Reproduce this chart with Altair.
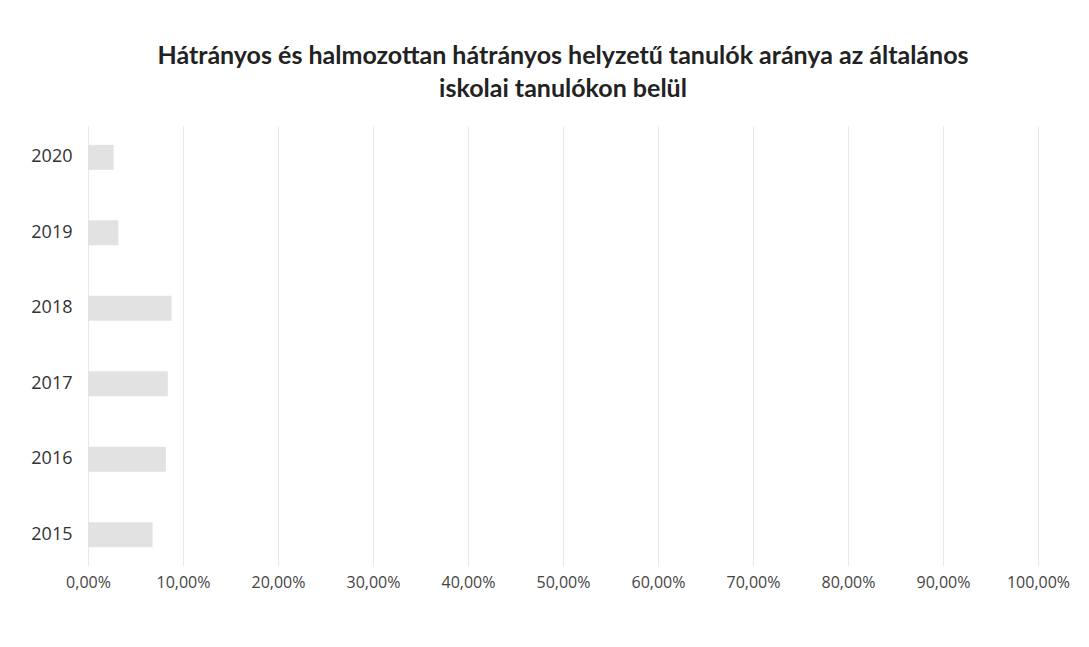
import altair as alt
import pandas as pd

years = ["2015", "2016", "2017", "2018", "2019", "2020"]
values = [0.068, 0.082, 0.084, 0.088, 0.032, 0.027]
x_ticks = [0, 0.1, 0.2, 0.3, 0.4, 0.5, 0.6, 0.7, 0.8, 0.9, 1.0]

df = pd.DataFrame({"year": years, "value": values})

chart = alt.Chart(df).mark_bar(color="#e2e2e2").encode(
    x=alt.X("value:Q",
            scale=alt.Scale(domain=[0, 1], nice=False),
            axis=alt.Axis(values=x_ticks, title=None, domain=False, ticks=False,
                          labelExpr="replace(format(datum.value, '.2%'), '.', ',')",
                          labelFont="Open Sans", labelFontSize=16, labelColor="#444444",
                          labelFlush=False, labelPadding=8, grid=True, gridColor="#e8e8e8")),
    y=alt.Y("year:N", sort=years[::-1],
            scale=alt.Scale(paddingInner=0.67, paddingOuter=0.25),
            axis=alt.Axis(title=None, domain=False, ticks=False,
                          labelFont="Open Sans", labelFontSize=18, labelColor="#333333",
                          labelPadding=16)),
).properties(
    width=950,
    height=440,
    background="white",
    padding={"left": 22, "top": 36, "right": 10, "bottom": 10},
    title=alt.TitleParams(
        text=["Hátrányos és halmozottan hátrányos helyzetű  tanulók aránya az általános",
              "iskolai tanulókon belül"],
        font="Lato", fontSize=25, fontWeight="bold", color="#222222",
        anchor="middle", offset=24, lineHeight=33),
).configure_view(stroke=None)

chart.save("out.html", embed_options={"renderer": "svg", "actions": False})
